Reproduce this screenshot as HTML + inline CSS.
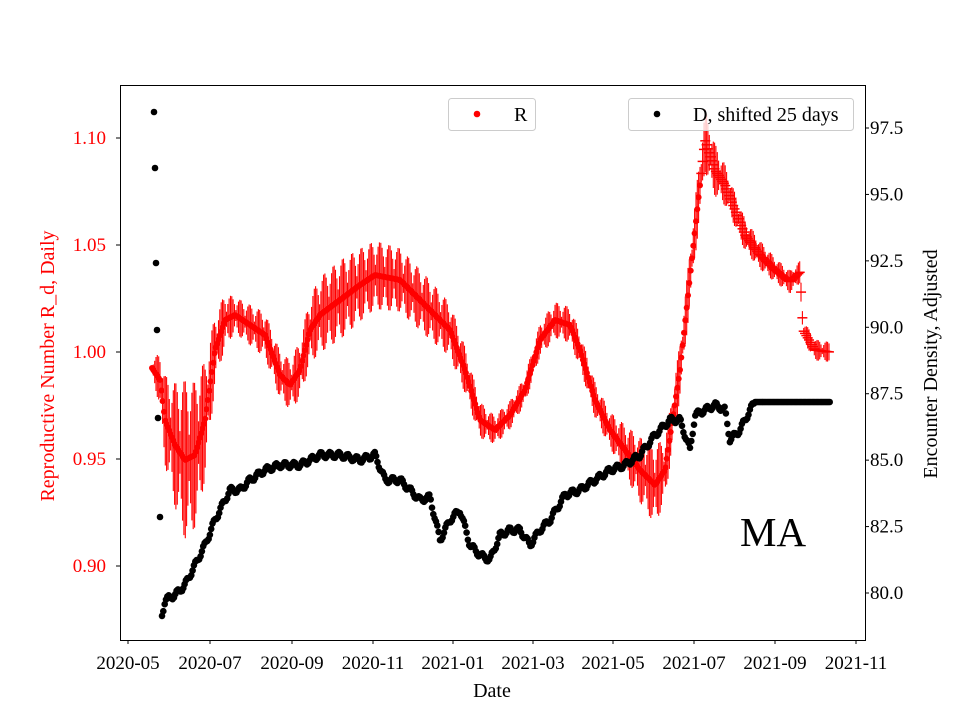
<!DOCTYPE html><html><head><style>body{margin:0;background:#fff}svg{display:block}text{font-family:"Liberation Serif",serif}</style></head><body>
<svg id="s" width="960" height="720" xmlns="http://www.w3.org/2000/svg"></svg>
<script>
const s=document.getElementById('s');let h='';
function interp(pts,x){for(let i=0;i<pts.length-1;i++){if(x>=pts[i][0]&&x<=pts[i+1][0]){const t=(x-pts[i][0])/(pts[i+1][0]-pts[i][0]);return pts[i][1]+t*(pts[i+1][1]-pts[i][1]);}}return pts[pts.length-1][1];}
const R=[[152,368],[160,380],[165,420],[175,445],[185,460],[195,455],[205,420],[215,350],[225,320],[235,315],[250,325],[265,335],[280,375],[290,385],[300,370],[310,330],[320,315],[340,300],[360,285],[375,275],[400,280],[420,300],[435,315],[450,330],[465,370],[480,420],[495,430],[510,415],[525,390],[540,340],[555,320],[570,325],[580,350],[595,400],[610,430],[625,450],[640,470],[655,485],[665,470],[680,370],[695,230],[705,140],[715,170],[725,185],[735,210],[745,235],[760,255],[775,270],[790,282],[800,272],[803,330],[815,350],[830,352]];
const HH=[[152,5],[165,45],[185,80],[200,70],[215,35],[235,18],[260,22],[290,25],[320,38],[340,40],[370,35],[400,32],[430,30],[460,25],[490,15],[520,14],[550,18],[580,18],[610,18],[630,28],[655,40],[670,28],[690,28],[705,32],[730,18],[780,12],[830,10]];
for(let x=152;x<=830;x+=1.33){const y=interp(R,x);let hh=interp(HH,x);const ph=Math.abs(Math.sin((x-152)/1.33*Math.PI/7));hh*=(0.3+0.7*ph);
h+=`<line x1="${x.toFixed(1)}" x2="${x.toFixed(1)}" y1="${(y-hh).toFixed(1)}" y2="${(y+hh).toFixed(1)}" stroke="red" stroke-width="1.1"/>`;
if(x<700) h+=`<circle cx="${x.toFixed(1)}" cy="${y.toFixed(1)}" r="3" fill="red"/>`; else h+=`<line x1="${x-5}" x2="${x+5}" y1="${y.toFixed(1)}" y2="${y.toFixed(1)}" stroke="red" stroke-width="1.5"/>`;}
const B=[[162,615],[165,600],[175,595],[185,585],[195,565],[205,545],[215,520],[230,490],[240,490],[250,480],[265,470],[280,465],[300,465],[320,455],[340,455],[360,460],[375,455],[385,480],[400,480],[410,490],[420,500],[430,497],[440,540],[450,520],[460,510],[470,545],[480,555],[490,560],[500,535],[510,530],[520,530],[530,545],[540,530],[550,520],[565,495],[580,490],[595,480],[610,470],[625,465],[640,455],[655,435],[670,420],[680,420],[690,450],[695,415],[705,410],[715,405],[725,410],[730,440],[740,430],[750,410],[755,402],[830,402]];
[[154,112],[155,168],[156,263],[157,330],[158,418],[160,517]].forEach(p=>h+=`<circle cx="${p[0]}" cy="${p[1]}" r="3.3" fill="#000"/>`);
for(let x=162;x<=830;x+=1.33){let y=interp(B,x);if(x<755)y+=Math.sin(x*0.7)*3;h+=`<circle cx="${x.toFixed(1)}" cy="${y.toFixed(1)}" r="3.3" fill="#000"/>`;}
h+=`<rect x="120.5" y="85.5" width="745" height="555" fill="none" stroke="#000" stroke-width="1"/>`;
[[1.10,138],[1.05,245],[1.00,352],[0.95,459],[0.90,566]].forEach(t=>{h+=`<line x1="116" x2="120" y1="${t[1]}" y2="${t[1]}" stroke="#000"/><text x="106" y="${t[1]+6}" font-size="19" text-anchor="end" fill="red">${t[0].toFixed(2)}</text>`});
for(let i=0;i<8;i++){const v=97.5-2.5*i,y=128+66.43*i;h+=`<line x1="865" x2="869" y1="${y}" y2="${y}" stroke="#000"/><text x="870" y="${y+6}" font-size="19">${v.toFixed(1)}</text>`}
const xl=['2020-05','2020-07','2020-09','2020-11','2021-01','2021-03','2021-05','2021-07','2021-09','2021-11'],xp=[128,210,292,373,453,533,613,694,775,856];
xl.forEach((l,i)=>h+=`<line x1="${xp[i]}" x2="${xp[i]}" y1="640" y2="644" stroke="#000"/><text x="${xp[i]}" y="669" font-size="19" text-anchor="middle">${l}</text>`);
h+=`<text x="492" y="697" font-size="20" text-anchor="middle">Date</text>`;
h+=`<text transform="translate(54,366) rotate(-90)" font-size="20" text-anchor="middle" fill="red">Reproductive Number R_d, Daily</text>`;
h+=`<text transform="translate(937,364) rotate(-90)" font-size="20" text-anchor="middle">Encounter Density, Adjusted</text>`;
h+=`<rect x="448.5" y="98.5" width="87" height="32" rx="3" fill="#fff" fill-opacity="0.8" stroke="#ccc"/><circle cx="477" cy="114" r="3.3" fill="red"/><text x="514" y="121" font-size="20">R</text>`;
h+=`<rect x="628.5" y="98.5" width="225" height="32" rx="3" fill="#fff" fill-opacity="0.8" stroke="#ccc"/><circle cx="657" cy="114" r="3.3" fill="#000"/><text x="693" y="121" font-size="20">D, shifted 25 days</text>`;
h+=`<text x="740" y="546" font-size="41">MA</text>`;
s.innerHTML=h;
</script></body></html>
